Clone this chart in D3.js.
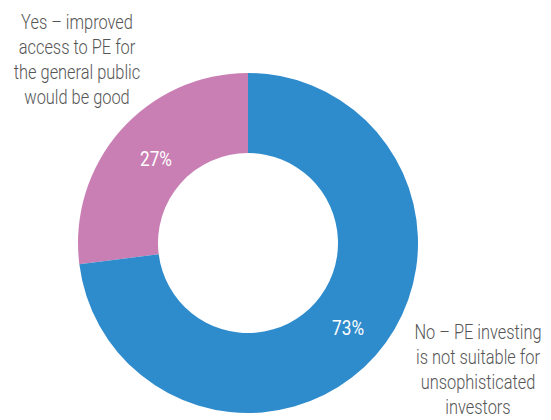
<!DOCTYPE html>
<html>
<head>
<meta charset="utf-8">
<script src="https://cdn.jsdelivr.net/npm/d3@7"></script>
<style>
  html, body { margin: 0; padding: 0; background: #fff; }
  svg { display: block; }
  text { font-family: "Roboto", "Liberation Sans", sans-serif; }
</style>
</head>
<body>
<svg id="chart" width="551" height="420"></svg>
<script>
// Survey answers: share of respondents per answer
const categories = ["Yes", "No"];
const values = [27, 73];
const colors = ["#C97FB3", "#2E8BCC"];
const answerLabels = [
  ["Yes \u2013 improved", "access to PE for", "the general public", "would be good"],
  ["No \u2013 PE investing", "is not suitable for", "unsophisticated", "investors"]
];

const svg = d3.select("#chart");
const cx = 248, cy = 243;
const outerR = 170, innerR = 90;
const narrow = 0.82; // horizontal squeeze for a condensed look

const pie = d3.pie().sort(null).value(d => d.value)
  .startAngle(-values[0] / 100 * 2 * Math.PI)
  .endAngle(2 * Math.PI - values[0] / 100 * 2 * Math.PI);
const data = categories.map((c, i) => ({ cat: c, value: values[i], color: colors[i] }));
const arcs = pie(data);

const arc = d3.arc().innerRadius(innerR).outerRadius(outerR);
const labelArc = d3.arc().innerRadius(128).outerRadius(128);

const g = svg.append("g").attr("transform", `translate(${cx},${cy})`);

g.selectAll("path.slice")
  .data(arcs)
  .join("path")
  .attr("class", "slice")
  .attr("d", arc)
  .attr("fill", d => d.data.color);

// Percentage labels inside the ring
g.selectAll("text.pct")
  .data(arcs)
  .join("text")
  .attr("class", "pct")
  .attr("transform", d => {
    const [x, y] = labelArc.centroid(d);
    return `translate(${x + 4},${y}) scale(${narrow},1)`;
  })
  .attr("text-anchor", "middle")
  .attr("dy", "0.36em")
  .attr("fill", "#fff")
  .attr("font-size", 21)
  .text(d => d.data.value + "%");

// Answer descriptions outside the ring
const descPos = [
  { x: 77, y: 29 },
  { x: 478, y: 339 }
];
answerLabels.forEach((lines, i) => {
  const t = svg.append("text")
    .attr("transform", `translate(${descPos[i].x},${descPos[i].y}) scale(${narrow},1)`)
    .attr("text-anchor", "middle")
    .attr("fill", "#555555")
    .attr("font-weight", 300)
    .attr("font-size", 20);
  lines.forEach((line, j) => {
    t.append("tspan")
      .attr("x", 0)
      .attr("y", j * 25)
      .text(line);
  });
});
</script>
</body>
</html>
